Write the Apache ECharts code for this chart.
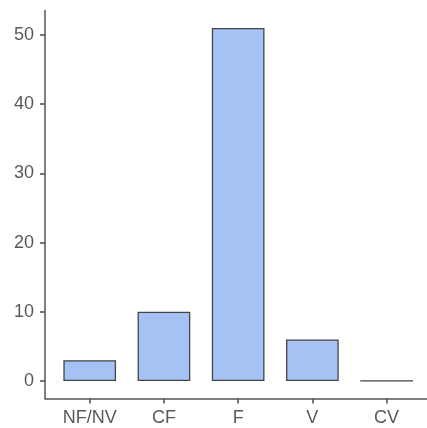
<!DOCTYPE html>
<html><head><meta charset="utf-8">
<script src="https://cdn.jsdelivr.net/npm/echarts@6/dist/echarts.min.js"></script>
<style>html,body{margin:0;padding:0;background:#fff}#c{width:427px;height:428px}</style>
</head><body><div id="c"></div>
<script>
const categories = ['NF/NV', 'CF', 'F', 'V', 'CV'];
const counts = [3, 10, 51, 6, 0];
const yTicks = [0, 10, 20, 30, 40, 50];
const yMin = -2.55, yMax = 53.55;

const chart = echarts.init(document.getElementById('c'), null, {renderer: 'canvas'});
const txt = {color: '#595959', fontFamily: 'Liberation Sans, Arial, sans-serif', fontSize: 18};
const axisCol = '#555';
chart.setOption({
  animation: false,
  grid: [
    {left: 52.6, right: 3.3, top: 10.4, bottom: 29.4, containLabel: false},
    {left: 45, right: -5, top: 10.4, bottom: 29.4, containLabel: false}
  ],
  xAxis: [{
    gridIndex: 0, type: 'category', data: categories, boundaryGap: true, position: 'bottom',
    axisLine: {show: false, onZero: false},
    axisTick: {show: true, alignWithLabel: true, length: 5, lineStyle: {color: axisCol, width: 1.6}},
    axisLabel: Object.assign({margin: 10}, txt),
    splitLine: {show: false}
  }, {
    gridIndex: 1, type: 'value', min: 0, max: 1, position: 'bottom',
    axisLine: {show: true, onZero: false, lineStyle: {color: axisCol, width: 1.5}},
    axisTick: {show: false}, axisLabel: {show: false}, splitLine: {show: false}
  }],
  yAxis: [{
    gridIndex: 0, type: 'value', min: yMin, max: yMax, show: false
  }, {
    gridIndex: 1, type: 'value', min: yMin, max: yMax,
    axisLine: {show: true, onZero: false, lineStyle: {color: axisCol, width: 1.5}},
    axisTick: {show: true, length: 5, customValues: yTicks, lineStyle: {color: axisCol, width: 1.6}},
    axisLabel: Object.assign({margin: 11, customValues: yTicks}, txt),
    splitLine: {show: false}
  }],
  series: [{
    type: 'bar', xAxisIndex: 0, yAxisIndex: 0, data: counts, barCategoryGap: '29%',
    itemStyle: {color: '#a4c2f4', borderColor: '#454545', borderWidth: 1.3}
  }]
});
</script></body></html>
